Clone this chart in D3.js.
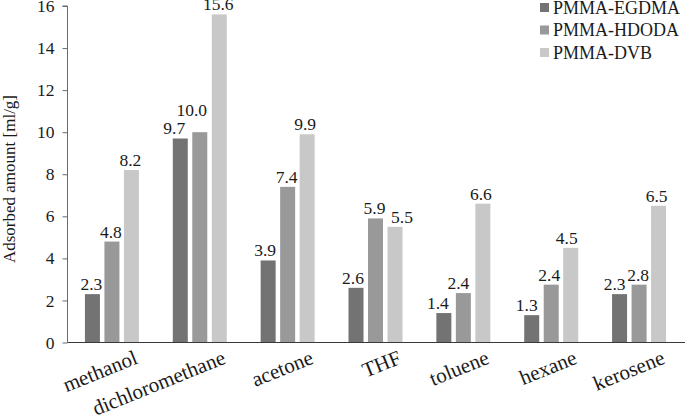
<!DOCTYPE html>
<html>
<head>
<meta charset="utf-8">
<script src="https://cdn.jsdelivr.net/npm/d3@7"></script>
<style>
  html, body { margin: 0; padding: 0; background: #fff; }
  svg text { font-family: "Liberation Serif", "Times New Roman", Tinos, serif !important; }
</style>
</head>
<body>
<svg id="chart" width="685" height="420"></svg>
<script>
// ---- data ----
const categories = ["methanol", "dichloromethane", "acetone", "THF", "toluene", "hexane", "kerosene"];
const seriesNames = ["PMMA-EGDMA", "PMMA-HDODA", "PMMA-DVB"];
const egdma = [2.3, 9.7, 3.9, 2.6, 1.4, 1.3, 2.3];
const hdoda = [4.8, 10.0, 7.4, 5.9, 2.35, 2.75, 2.75];
const dvb   = [8.2, 15.6, 9.9, 5.5, 6.6, 4.5, 6.5];
const egdmaLabels = ["2.3", "9.7", "3.9", "2.6", "1.4", "1.3", "2.3"];
const hdodaLabels = ["4.8", "10.0", "7.4", "5.9", "2.4", "2.4", "2.8"];
const dvbLabels   = ["8.2", "15.6", "9.9", "5.5", "6.6", "4.5", "6.5"];
const yTicks = [0, 2, 4, 6, 8, 10, 12, 14, 16];
const yTitle = "Adsorbed amount [ml/g]";

// ---- styling / layout ----
const FONT = '"Liberation Serif", "Times New Roman", Tinos, serif';
const colors = ["#737373", "#999999", "#c8c8c8"];
// manual nudges of value labels (as in the original figure) [series-category] -> [dx, dy]
const labelNudge = {
  "0-1": [-6, 0], "1-1": [-8, -12], "2-2": [-2, 0], "0-2": [-3, 0],
  "0-3": [-3, 0], "2-3": [7, 0],
  "0-4": [-6, 0], "1-4": [-5, 0], "2-4": [-2, 0],
  "0-5": [-5, 0], "1-5": [-2, 0], "2-5": [-4, 0],
  "0-6": [-5, 0], "1-6": [-1, 0], "2-6": [-2, 0]
};

const values = [egdma, hdoda, dvb];
const labels = [egdmaLabels, hdodaLabels, dvbLabels];

const svg = d3.select("#chart");
const x0 = 68, x1 = 683, yTop = 6, yBottom = 342.5;

const x = d3.scaleBand().domain(categories).range([x0, x1]).padding(0);
const y = d3.scaleLinear().domain([0, 16]).range([yBottom, yTop]);
const barW = 15, barStep = 19.5;

// y axis
const yAxis = d3.axisLeft(y).tickValues(yTicks).tickSize(5).tickPadding(8).tickFormat(d3.format("d"));
const gy = svg.append("g").attr("transform", `translate(${x0 - 0.5},0)`).call(yAxis)
  .attr("font-family", FONT);
gy.select(".domain").attr("stroke", "#6b6b6b").attr("d", `M-5,${y(16)}H0V${yBottom}`);
gy.selectAll(".tick line").attr("stroke", "#6b6b6b");
gy.selectAll(".tick text").attr("font-size", 17.5).attr("fill", "#1a1a1a")
  .attr("font-family", FONT);

// bars
for (let s = 0; s < 3; s++) {
  const g = svg.append("g");
  g.selectAll("rect").data(categories).join("rect")
    .attr("x", (c) => x(c) + x.bandwidth() / 2 + (s - 1) * barStep - barW / 2)
    .attr("y", (c, i) => y(values[s][i]))
    .attr("width", barW)
    .attr("height", (c, i) => y(0) - y(values[s][i]))
    .attr("fill", colors[s]);
  g.selectAll("text").data(categories).join("text")
    .attr("x", (c, i) => {
      const n = labelNudge[`${s}-${i}`] || [-1, 0];
      return x(c) + x.bandwidth() / 2 + (s - 1) * barStep + n[0];
    })
    .attr("y", (c, i) => {
      const n = labelNudge[`${s}-${i}`] || [-1, 0];
      return y(values[s][i]) - 4 + n[1];
    })
    .attr("text-anchor", "middle")
    .attr("font-family", FONT)
    .attr("font-size", 17.5)
    .attr("fill", "#1a1a1a")
    .text((c, i) => labels[s][i]);
}

// x axis line
svg.append("line").attr("x1", x0 - 0.5).attr("x2", 685).attr("y1", yBottom).attr("y2", yBottom)
  .attr("stroke", "#3a3a3a").attr("stroke-width", 1.2);

// category labels (rotated)
svg.append("g").selectAll("text").data(categories).join("text")
  .attr("transform", (c) => `translate(${x(c) + x.bandwidth() / 2 + 27},363) rotate(-22)`)
  .attr("text-anchor", "end")
  .attr("font-family", FONT)
  .attr("font-size", 21)
  .attr("fill", "#1a1a1a")
  .text((c) => c);

// y axis title
svg.append("text")
  .attr("transform", `translate(15,179) rotate(-90)`)
  .attr("text-anchor", "middle")
  .attr("font-family", FONT)
  .attr("font-size", 17)
  .attr("fill", "#1a1a1a")
  .text(yTitle);

// legend
const lg = svg.append("g");
seriesNames.forEach((name, i) => {
  const cy = 7.5 + i * 22.5;
  lg.append("rect").attr("x", 540).attr("y", cy - 4.5).attr("width", 9).attr("height", 9).attr("fill", colors[i]);
  lg.append("text").attr("x", 553).attr("y", cy).attr("dy", "0.35em")
    .attr("font-family", FONT)
    .attr("font-size", 18).attr("fill", "#1a1a1a").text(name);
});
</script>
</body>
</html>
